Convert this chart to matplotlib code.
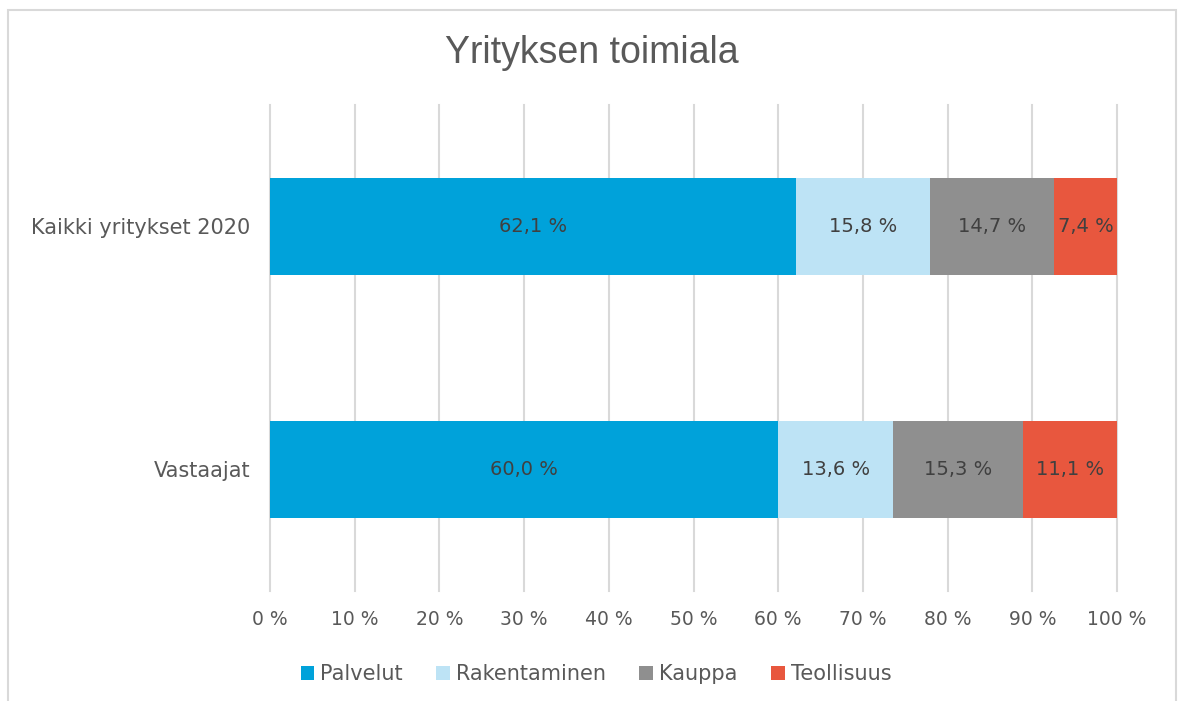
import matplotlib.pyplot as plt
from matplotlib.patches import Rectangle
from matplotlib.ticker import FuncFormatter

categories = ["Vastaajat", "Kaikki yritykset 2020"]
series_names = ["Palvelut", "Rakentaminen", "Kauppa", "Teollisuus"]
palvelut = [60.0, 62.1]
rakentaminen = [13.6, 15.8]
kauppa = [15.3, 14.7]
teollisuus = [11.1, 7.4]
x_ticks = [0, 10, 20, 30, 40, 50, 60, 70, 80, 90, 100]

colors = ["#00A2DA", "#BDE3F5", "#8F8F8F", "#E8573E"]
text_grey = "#595959"
label_dark = "#404040"

plt.rcParams["font.family"] = ["DejaVu Sans"]

fig = plt.figure(figsize=(11.81, 7.01), dpi=100)
ax = fig.add_axes([270 / 1181, 1 - 591 / 701, 847 / 1181, 486 / 701])

# light border round the whole chart
fig.patches.append(Rectangle((8 / 1181, -0.05), 1168 / 1181, 1.05 - 10 / 701,
                             transform=fig.transFigure, fill=False,
                             edgecolor="#D9D9D9", linewidth=1.5))

ypos = list(range(len(categories)))
left = [0.0] * len(categories)
for name, vals, col in zip(series_names, [palvelut, rakentaminen, kauppa, teollisuus], colors):
    bars = ax.barh(ypos, vals, left=left, height=0.4, color=col, label=name, zorder=3)
    labels = [f"{v:.1f} %".replace(".", ",") for v in vals]
    ax.bar_label(bars, labels=labels, label_type="center", fontsize=14,
                 color=label_dark)
    left = [l + v for l, v in zip(left, vals)]

ax.set_xlim(0, 100)
ax.set_ylim(-0.5, 1.5)
ax.set_xticks(x_ticks)
ax.xaxis.set_major_formatter(FuncFormatter(lambda v, p: f"{int(v)} %"))
ax.set_yticks(ypos)
ax.set_yticklabels(categories)
ax.tick_params(axis="x", length=0, pad=14, labelsize=13.5, labelcolor=text_grey)
ax.tick_params(axis="y", length=0, pad=14, labelsize=15, labelcolor=text_grey)
ax.grid(axis="x", color="#D9D9D9", linewidth=1.5, zorder=0)
for gl in ax.get_xgridlines():
    gl.set_clip_on(False)
for s in ax.spines.values():
    s.set_visible(False)

fig.text(592 / 1181, 1 - 53 / 701, "Yrityksen toimiala", ha="center", va="center",
         fontsize=27, color=text_grey, family=["Liberation Sans", "DejaVu Sans"])

fig.legend(loc="center", bbox_to_anchor=(596 / 1181, 1 - 674 / 701), ncol=4,
           frameon=False, fontsize=15, handlelength=0.65, handleheight=0.65,
           handletextpad=0.3, columnspacing=1.6, labelcolor=text_grey)

fig.savefig("out.png", dpi=100)
